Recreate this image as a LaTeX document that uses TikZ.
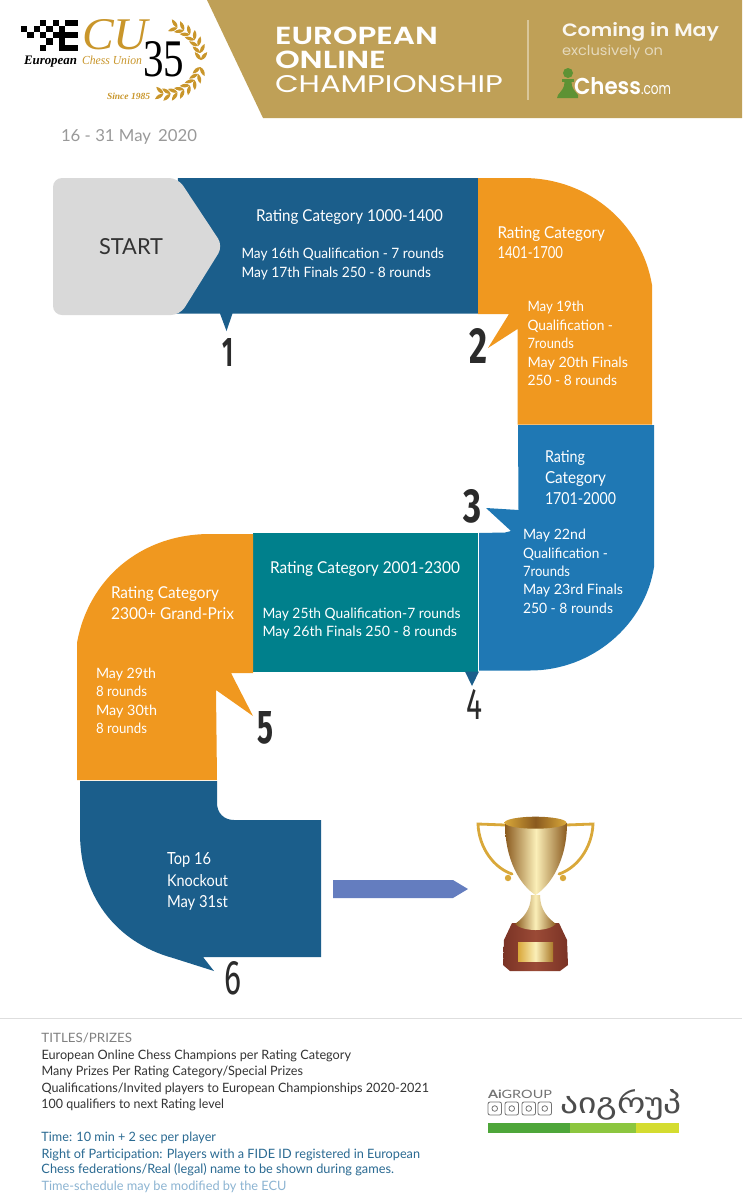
\documentclass[tikz,border=0pt]{standalone}
\usepackage{fontspec}
\usepackage{graphicx}
\setmainfont{Lato}
\newfontfamily\headfont{Poppins}[BoldFont={Poppins SemiBold}]
\newfontfamily\numfont{Fira Sans}
\newfontfamily\serifface{Liberation Serif}
\newfontfamily\geofont{DejaVu Sans}
\definecolor{cOrange}{HTML}{F0981F}
\definecolor{cDark}{HTML}{1B5E8B}
\definecolor{cMid}{HTML}{1F78B4}
\definecolor{cTeal}{HTML}{00808C}
\definecolor{cGray}{HTML}{D9D9D9}
\definecolor{cGold}{HTML}{BFA057}
\definecolor{cLogo}{HTML}{C9962B}
\definecolor{cArrow}{HTML}{647DBF}
\definecolor{cNum}{HTML}{2B2B2B}
\definecolor{cInk}{HTML}{333333}
\definecolor{cNote}{HTML}{2A6A92}
\definecolor{cPale}{HTML}{8CB4D2}
\definecolor{cWood}{HTML}{7A3325}
\definecolor{cWoodL}{HTML}{9A4A36}
\definecolor{cCupD}{HTML}{8A5A1E}
\definecolor{cCupM}{HTML}{D9A83A}
\definecolor{cCupL}{HTML}{FBEFB8}
\definecolor{cPawn}{HTML}{5E9234}
\definecolor{cBarA}{HTML}{4EA63A}
\definecolor{cBarB}{HTML}{8CC63F}
\definecolor{cBarC}{HTML}{D4DC30}
\tikzset{
  txt/.style={anchor=base west,inner sep=0pt,outer sep=0pt,font=\fontsize{20}{24}\selectfont},
  wtxt/.style={txt,text=white},
  num/.style={anchor=center,inner sep=0pt,outer sep=0pt,text=cNum},
  leaf/.style={fill=cLogo,draw=none},
  handle/.style={draw=cCupM,line width=2.8pt,line cap=round}
}
% name, x, baseline y, right x, style, height above baseline, text
\newcommand{\fitlabel}[7]{%
  \pgfmathsetmacro{\fitw}{#4-#2}%
  \node[#5] (#1) at (#2,#3) {\resizebox{\fitw pt}{#6 pt}{#7}};}
% name, left, top, right, bottom, style, digit
\newcommand{\bignum}[7]{%
  \pgfmathsetmacro{\fitw}{#4-#2}\pgfmathsetmacro{\fith}{#5-#3}%
  \pgfmathsetmacro{\fitx}{(#2+#4)/2}\pgfmathsetmacro{\fity}{(#3+#5)/2}%
  \node[num] (#1) at (\fitx,\fity) {\resizebox{\fitw pt}{\fith pt}{\numfont#6{#7}}};}
\begin{document}
\begin{tikzpicture}[x=1pt,y=-1pt]
\useasboundingbox (0,0) rectangle (742,1200);
\fill[white] (0,0) rectangle (742,1200);
% ---------- header
\fill[cGold] (207,0) -- (742,0) -- (742,118) -- (263,118) -- cycle;
\draw[color=cGold!60!white,line width=1.2pt] (528,20) -- (528,100);
\fitlabel{hEuro}{275}{44.5}{438}{wtxt}{17.5}{\headfont\bfseries EUROPEAN}
\fitlabel{hOnline}{275}{68}{386}{wtxt}{17.5}{\headfont\bfseries ONLINE}
\fitlabel{hChamp}{275}{92}{503}{wtxt}{17}{\headfont CHAMPIONSHIP}
\fitlabel{hComing}{562}{36}{719}{wtxt,text=white!92!cGold}{14}{\headfont\bfseries Coming in May}
\fitlabel{hExcl}{562}{55}{663}{wtxt,text=white!60!cGold}{10.5}{\headfont exclusively on}
% pawn
\fill[cPawn] (568,73) circle (5);
\fill[cPawn] (562,79) rectangle (574,81.5);
\fill[cPawn] (564.5,81) .. controls (565,88) and (561,91) .. (558,95) -- (557,98) -- (578,98) -- (578,95) .. controls (575,91) and (571,88) .. (571.5,81) -- cycle;
\fitlabel{hChess}{574}{94}{641}{wtxt}{17}{\headfont\bfseries Chess}
\fitlabel{hCom}{641}{94}{671}{wtxt}{9}{\headfont .com}
% ECU logo
\foreach \c/\r in {3/0,5/0,7/0,8/0,0/1,2/1,4/1,6/1,1/2,3/2,5/2,6/2,7/2,8/2,4/3,6/3,3/4,6/4,7/4,8/4}{
  \fill[black] ({21+\c*6.3},{19.5+\r*6.3}) rectangle ++(6.3,6.3);
}
\fitlabel{lCU}{82}{49}{148}{txt,text=cLogo}{30}{\serifface\itshape CU}
\fitlabel{l35}{143}{76}{184}{txt,text=black}{35}{\serifface 35}
\fitlabel{lEuro}{24}{64}{77}{txt,text=black}{8.5}{\serifface\bfseries\itshape European}
\fitlabel{lUnion}{82}{64}{142}{txt,text=cLogo}{8.5}{\serifface\itshape Chess Union}
\fitlabel{lSince}{107}{99}{150}{txt,text=cLogo}{6.5}{\serifface\bfseries\itshape Since 1985}
\foreach \a/\d in {72/90,60/90,48/90,36/90,24/90,12/90,0/90,-12/-90,-24/-90,-36/-90,-48/-90,-60/-90,-72/-90,-84/-90,-96/-90}{
  \pgfmathsetmacro{\px}{167+34*cos(\a)}
  \pgfmathsetmacro{\py}{60-34*sin(\a)}
  \fill[leaf,shift={(\px,\py)},rotate={\a+\d+38}] (0,0) .. controls (3,2.4) and (6.5,2.4) .. (10,0) .. controls (6.5,-2.4) and (3,-2.4) .. (0,0) -- cycle;
  \fill[leaf,shift={(\px,\py)},rotate={\a+\d-38}] (0,0) .. controls (3,2.4) and (6.5,2.4) .. (10,0) .. controls (6.5,-2.4) and (3,-2.4) .. (0,0) -- cycle;
}
\fitlabel{date}{61}{141}{197}{txt,text=black!40}{12}{16 - 31 May\, 2020}
% ---------- path shapes
\fill[cDark] (178,178) -- (478,178) -- (478,313.5) -- (232.5,313.5) -- (226.5,331) -- (220,313.5) -- (170,313.5) -- cycle;
\fill[cGray,rounded corners=9pt] (53,178) -- (178,178) -- (223,246) -- (180,315) -- (53,315) -- cycle;
\fill[cOrange] (478,178) -- (523,178) .. controls (590,178) and (642,225) .. (652,285) -- (652,424.5) -- (517.5,424.5) -- (517.5,329) -- (488,348) -- (509,314) -- (478,314) -- cycle;
\fill[cMid] (518,425) -- (654,425) -- (654,567) .. controls (645,625) and (592,670.5) .. (530,670.5) -- (479,670.5) -- (479,533) -- (505,532.5) -- (511,531) -- (486,508) -- (518.5,510) -- cycle;
\fill[cTeal] (253,533) -- (478,533) -- (478,671.5) -- (253,671.5) -- cycle;
\fill[cDark] (465,671.5) -- (479,671.5) -- (472,686) -- cycle;
\fill[cOrange] (253,534) -- (210,534) .. controls (140,534) and (88,580) .. (77,643) -- (77,780) -- (217,780) -- (216,690) -- (253,716) -- (231,673) -- (253,673) -- cycle;
\fill[cDark] (80,781) -- (217,781) -- (217,803) .. controls (217,813) and (224,820) .. (234,820) -- (321,820) -- (321,957) -- (203,957) -- (214,971) -- (173,958) .. controls (115,942) and (80,895) .. (80,833) -- cycle;
\fill[cArrow] (333,880) -- (453,880) -- (468,889) -- (453,898) -- (333,898) -- cycle;
% ---------- texts in the path
\fitlabel{start}{99}{254}{163}{txt,text=cInk}{16}{START}
\fitlabel{a1}{256}{221}{443}{wtxt}{12}{Rating Category 1000-1400}
\fitlabel{a2}{241.5}{258}{444}{wtxt}{10.5}{May 16th Qualification - 7 rounds}
\fitlabel{a3}{241.5}{277}{431}{wtxt}{10.5}{May 17th Finals 250 - 8 rounds}
\fitlabel{b1}{497.5}{238}{605}{wtxt}{12}{Rating Category}
\fitlabel{b2}{497.5}{258}{563}{wtxt}{12}{1401-1700}
\fitlabel{b3}{527.5}{311}{584}{wtxt}{10.5}{May 19th}
\fitlabel{b4}{527.5}{330}{613}{wtxt}{10.5}{Qualification -}
\fitlabel{b5}{527.5}{348}{574}{wtxt}{10.5}{7rounds}
\fitlabel{b6}{527.5}{367}{628}{wtxt}{10.5}{May 20th Finals}
\fitlabel{b7}{527.5}{385}{617}{wtxt}{10.5}{250 - 8 rounds}
\fitlabel{c1}{545}{462}{585}{wtxt}{12}{Rating}
\fitlabel{c2}{545}{483}{606}{wtxt}{12}{Category}
\fitlabel{c3}{545}{504}{616}{wtxt}{12}{1701-2000}
\fitlabel{c4}{523}{539}{586}{wtxt}{10.5}{May 22nd}
\fitlabel{c5}{523}{558}{608}{wtxt}{10.5}{Qualification -}
\fitlabel{c6}{523}{576}{570}{wtxt}{10.5}{7rounds}
\fitlabel{c7}{523}{594}{623}{wtxt}{10.5}{May 23rd Finals}
\fitlabel{c8}{523}{613}{613}{wtxt}{10.5}{250 - 8 rounds}
\fitlabel{d1}{270}{573}{460}{wtxt}{12}{Rating Category 2001-2300}
\fitlabel{d2}{262.5}{618}{460.5}{wtxt}{10.5}{May 25th Qualification-7 rounds}
\fitlabel{d3}{262.5}{636}{457}{wtxt}{10.5}{May 26th Finals 250 - 8 rounds}
\fitlabel{e1}{111}{598}{219}{wtxt}{12}{Rating Category}
\fitlabel{e2}{111}{619}{234}{wtxt}{12}{2300+ Grand-Prix}
\fitlabel{e3}{96}{678}{156}{wtxt}{10.5}{May 29th}
\fitlabel{e4}{96}{696}{147}{wtxt}{10.5}{8 rounds}
\fitlabel{e5}{96}{715}{157}{wtxt}{10.5}{May 30th}
\fitlabel{e6}{96}{733}{147}{wtxt}{10.5}{8 rounds}
\fitlabel{f1}{167}{864}{211}{wtxt}{12}{Top 16}
\fitlabel{f2}{167}{886}{228}{wtxt}{12}{Knockout}
\fitlabel{f3}{167}{907}{228}{wtxt}{12}{May 31st}
% ---------- step numbers
\bignum{n1}{222}{338}{233}{366}{\bfseries}{1}
\bignum{n2}{469}{328}{487}{363}{\bfseries}{2}
\bignum{n3}{463}{490}{481}{523}{\bfseries}{3}
\bignum{n4}{466}{689}{482}{719}{}{4}
\bignum{n5}{257}{712}{273}{744}{\bfseries}{5}
\bignum{n6}{225}{962}{242}{995}{}{6}
% ---------- trophy
\draw[handle] (505,825) -- (478,824) .. controls (479,848) and (494,868) .. (512,874);
\draw[handle] (566,825) -- (593,824) .. controls (592,848) and (577,868) .. (559,874);
\fill[cCupM] (508,878) circle (3.2) (563,878) circle (3.2);
\shade[left color=cWood,right color=cWood,middle color=cWoodL] (512,923) -- (559,923) -- (567,940) -- (568,965) -- (560,971) -- (510,971) -- (503,965) -- (504,940) -- cycle;
\shade[left color=cCupM,right color=cCupD!60!cCupM,middle color=cCupL] (518,942) rectangle (553,961);
\shade[left color=cCupD,right color=cCupD,middle color=cCupL] (531,895) -- (540,895) .. controls (540,910) and (548,918) .. (556,924) .. controls (548,932) and (523,932) .. (515,924) .. controls (523,918) and (531,910) .. (531,895) -- cycle;
\shade[left color=cCupD,right color=cCupD,middle color=cCupL] (505,823) .. controls (505,860) and (520,885) .. (535.5,895) .. controls (551,885) and (567,860) .. (567,823) -- cycle;
\shade[left color=cCupM,right color=cCupM,middle color=cCupD] (504.5,822.7) arc[start angle=180,end angle=540,x radius=31,y radius=6];
% ---------- rule and notes
\draw[color=black!13,line width=0.9pt] (0,1018) -- (742,1018);
\fitlabel{t0}{41.5}{1042}{132}{txt,text=black!50}{9.5}{TITLES/PRIZES}
\fitlabel{t1}{41.5}{1059}{351}{txt,text=cInk}{9.5}{European Online Chess Champions per Rating Category}
\fitlabel{t2}{41.5}{1075}{303}{txt,text=cInk}{9.5}{Many Prizes Per Rating Category/Special Prizes}
\fitlabel{t3}{41.5}{1092}{429}{txt,text=cInk}{9.5}{Qualifications/Invited players to European Championships 2020-2021}
\fitlabel{t4}{41.5}{1108}{224}{txt,text=cInk}{9.5}{100 qualifiers to next Rating level}
\fitlabel{t5}{41.5}{1141}{216}{txt,text=cNote}{9.5}{Time: 10 min + 2 sec per player}
\fitlabel{t6}{41.5}{1158}{420}{txt,text=cNote}{9.5}{Right of Participation: Players with a FIDE ID registered in European}
\fitlabel{t7}{41.5}{1173}{394}{txt,text=cNote}{10}{Chess federations/Real (legal) name to be shown during games.}
\fitlabel{t8}{41.5}{1190}{286.5}{txt,text=cPale}{9.5}{Time-schedule may be modified by the ECU}
% ---------- AiGROUP logo
\fitlabel{aiLat}{488}{1098}{552}{txt,text=black!55}{8.5}{\textbf{Ai}GROUP}
\fitlabel{aiGeo}{560}{1113}{682}{txt,text=black!70}{24}{\geofont აიგრუპ}
\foreach \x in {488,505,522,538}{
  \draw[black!55,line width=0.8pt,rounded corners=2pt] (\x,1102) rectangle ++(13.5,13);
  \draw[black!55,line width=0.8pt] ({\x+6.75},1108.5) circle (2.8);
}
\fill[cBarA] (488,1123) rectangle (570,1133);
\fill[cBarB] (570,1123) rectangle (636,1133);
\fill[cBarC] (636,1123) rectangle (679,1133);
\end{tikzpicture}
\end{document}
